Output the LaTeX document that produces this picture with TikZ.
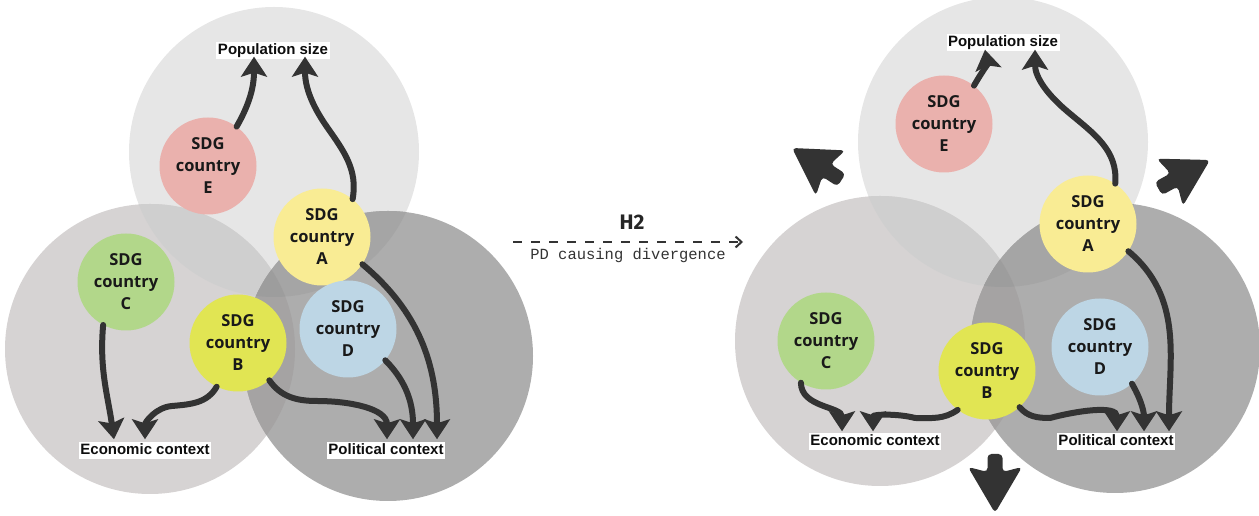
\documentclass[tikz,border=0pt]{standalone}
\usepackage{fontspec}
\setmainfont{Open Sans}
\newfontfamily\labfont{Liberation Sans}
\newfontfamily\pdmono{Liberation Mono}
\newfontfamily\hfont{Fira Sans}
\usetikzlibrary{arrows.meta}
\definecolor{cTop}{HTML}{E6E6E6}
\definecolor{cLeft}{HTML}{D6D3D3}
\definecolor{cRight}{HTML}{ADADAD}
\definecolor{cTL}{HTML}{CFCFCF}
\definecolor{cTR}{HTML}{A5A5A5}
\definecolor{cLR}{HTML}{A5A3A3}
\definecolor{cTLR}{HTML}{9D9D9D}
\definecolor{cArrow}{HTML}{333333}
\definecolor{cE}{HTML}{EAB1AD}
\definecolor{cA}{HTML}{F9EC94}
\definecolor{cC}{HTML}{B2D78A}
\definecolor{cB}{HTML}{E1E553}
\definecolor{cD}{HTML}{BDD6E5}
\newcommand\drawvenn[6]{%
  \fill[cTop] (#1,#2) circle (145pt);
  \fill[cLeft] (#3,#4) circle (145pt);
  \fill[cRight] (#5,#6) circle (145pt);
  \begin{scope}\clip (#1,#2) circle (145pt); \fill[cTL] (#3,#4) circle (145pt);\end{scope}
  \begin{scope}\clip (#1,#2) circle (145pt); \fill[cTR] (#5,#6) circle (145pt);\end{scope}
  \begin{scope}\clip (#3,#4) circle (145pt); \fill[cLR] (#5,#6) circle (145pt);\end{scope}
  \begin{scope}\clip (#1,#2) circle (145pt); \clip (#3,#4) circle (145pt); \fill[cTLR] (#5,#6) circle (145pt);\end{scope}
}
\newcommand\blockarrow[3]{%
  \fill[cArrow, rounded corners=4pt, shift={(#1,#2)}, rotate=#3]
    (0,0) -- (-46,27) -- (-41,7.5) -- (-59,7.5) -- (-59,-7.5) -- (-41,-7.5) -- (-46,-27) -- cycle;
}
\tikzset{
  sdg/.style={circle, minimum size=97pt, inner sep=0pt, align=center, text=black!90,
    font=\bfseries\fontsize{16.5}{22}\selectfont},
  lab/.style={fill=white, inner xsep=1.5pt, inner ysep=1.5pt, text height=11pt, text depth=3pt,
    text=black!95, font=\labfont\bfseries\fontsize{15}{15}\selectfont},
  conn/.style={line width=6pt, draw=cArrow, line cap=round,
    -{Stealth[length=20pt,width=26pt,inset=4pt]}},
  divarrow/.style={line width=2pt, draw=cArrow, dash pattern=on 9pt off 9pt,
    -{Straight Barb[length=6pt,width=11pt]}}
}
\begin{document}
\begin{tikzpicture}[x=1pt,y=1pt]
\useasboundingbox (0,0) rectangle (1259,516);

% ---------- left diagram ----------
\drawvenn{274}{364}{150}{167}{388}{160}
\node[sdg, fill=cE] (E1) at (208,350) {SDG\\country\\E};
\node[sdg, fill=cA] (A1) at (322,279) {SDG\\country\\A};
\node[sdg, fill=cC] (C1) at (126,234) {SDG\\country\\C};
\node[sdg, fill=cB] (B1) at (238,173) {SDG\\country\\B};
\node[sdg, fill=cD] (D1) at (348,187) {SDG\\country\\D};
\node[lab] (pop1) at (273,465) {Population size};
\node[lab] (eco1) at (145,65) {Economic context};
\node[lab] (pol1) at (386,65) {Political context};

\draw[conn] (E1.54) to[out=60,in=-90] ([xshift=-19pt,yshift=3pt]pop1.south);
\draw[conn] (A1.51) to[out=80,in=-55] (327,389) to[out=125,in=-90] ([xshift=32pt,yshift=3pt]pop1.south);
\draw[conn] (C1.242) to[out=265,in=98] ([xshift=-31pt,yshift=3pt]eco1.north);
\draw[conn] (B1.244) to[out=240,in=5] (172,110) to[out=185,in=90] ([yshift=3pt]eco1.north);
\draw[conn] (B1.-50) to[out=-55,in=180] (317,115) to[out=0,in=90] ([xshift=1pt,yshift=3pt]pol1.north);
\draw[conn] (D1.-40) to[out=-45,in=90] ([xshift=27pt,yshift=3pt]pol1.north);
\draw[conn] (A1.-34) to[out=-40,in=90] ([xshift=51pt,yshift=3pt]pol1.north);

% ---------- middle ----------
\node[font=\hfont\bfseries\fontsize{21}{21}\selectfont, text=black!85] (h2) at (632,294) {H2};
\coordinate (ds) at (513,274);
\coordinate (de) at (743,274);
\draw[divarrow] (ds) -- (de);
\node[font=\pdmono\fontsize{15.5}{15.5}\selectfont, text=black!80] (pd) at (628,261) {PD causing divergence};

% ---------- right diagram ----------
\drawvenn{1003}{374}{880}{175}{1115}{168}
\node[sdg, fill=cE] (E2) at (944,392) {SDG\\country\\E};
\node[sdg, fill=cA] (A2) at (1088,292) {SDG\\country\\A};
\node[sdg, fill=cC] (C2) at (826,175) {SDG\\country\\C};
\node[sdg, fill=cB] (B2) at (987,145) {SDG\\country\\B};
\node[sdg, fill=cD] (D2) at (1100,169) {SDG\\country\\D};
\node[lab] (pop2) at (1003,473) {Population size};
\node[lab] (eco2) at (875,74) {Economic context};
\node[lab] (pol2) at (1116,74) {Political context};

\draw[conn] (E2.52) to[out=60,in=-80] ([xshift=-18pt,yshift=2pt]pop2.south);
\draw[conn] (A2.56) to[out=85,in=-40] (1068,404) to[out=140,in=-90] ([xshift=32pt,yshift=2pt]pop2.south);
\draw[conn] (C2.239) to[out=-90,in=90] ([xshift=-33pt,yshift=2pt]eco2.north);
\draw[conn] (B2.233) to[out=215,in=0] (915,98) to[out=165,in=90] ([xshift=-2pt,yshift=2pt]eco2.north);
\draw[conn] (B2.-48) to[out=-50,in=180] (1050,98) to[out=15,in=90] ([xshift=1pt,yshift=2pt]pol2.north);
\draw[conn] (D2.-49) to[out=-60,in=90] ([xshift=28pt,yshift=2pt]pol2.north);
\draw[conn] (A2.-34) to[out=-40,in=90] ([xshift=53pt,yshift=2pt]pol2.north);

\blockarrow{792}{368}{147}
\blockarrow{1210}{356}{29}
\blockarrow{995}{3}{270}
\end{tikzpicture}
\end{document}
